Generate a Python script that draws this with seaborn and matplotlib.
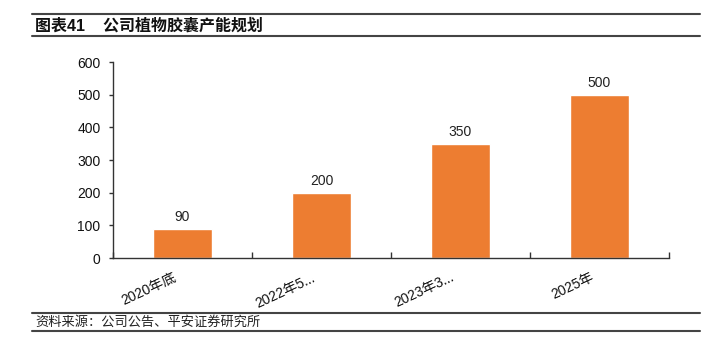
import matplotlib
matplotlib.use("Agg")
import matplotlib.pyplot as plt
from matplotlib.lines import Line2D
from matplotlib.transforms import ScaledTranslation
import seaborn as sns
import pandas as pd

# chart data
categories = ["2020年底", "2022年5...", "2023年3...", "2025年"]
capacity = [90, 200, 350, 500]
title_text = "图表41    公司植物胶囊产能规划"
source_text = "资料来源：公司公告、平安证券研究所"

sns.set_theme(style="white")
plt.rcParams["font.family"] = ["Liberation Sans", "Noto Sans CJK SC", "DejaVu Sans"]

df = pd.DataFrame({"cat": categories, "val": capacity})

fig = plt.figure(figsize=(7.21, 3.56), dpi=100)
ax = fig.add_axes([113 / 721, 1 - 258 / 356, (669 - 113) / 721, (258 - 62) / 356])

sns.barplot(data=df, x="cat", y="val", color="#ED7D31", width=0.42,
            saturation=1, ax=ax)

for i, v in enumerate(capacity):
    ax.text(i, v + 15, str(v), ha="center", va="bottom", fontsize=10, color="#222222")

ax.set_xlim(-0.5, 3.5)
ax.set_ylim(0, 600)
ax.set_yticks(range(0, 601, 100))
ax.set_xlabel("")
ax.set_ylabel("")

for s in ["top", "right"]:
    ax.spines[s].set_visible(False)
for s in ["left", "bottom"]:
    ax.spines[s].set_color("#333333")
    ax.spines[s].set_linewidth(1.0)

ax.tick_params(axis="y", direction="out", length=3, width=1, color="#333333",
               labelsize=10, labelcolor="#111111", left=True, pad=6)
ax.set_xticks([0, 1, 2, 3])
ax.set_xticklabels(categories, rotation=25, ha="right", rotation_mode="anchor",
                   fontsize=10, color="#111111")
ax.tick_params(axis="x", which="major", length=0, pad=9)
shift = ScaledTranslation(-7 / 72, 0, fig.dpi_scale_trans)
for lbl in ax.get_xticklabels():
    lbl.set_transform(lbl.get_transform() + shift)
ax.set_xticks([-0.5, 0.5, 1.5, 2.5, 3.5], minor=True)
ax.tick_params(axis="x", which="minor", direction="in", length=4, width=1,
               color="#333333", bottom=True)

# header and footer rules
for yy in [14, 36, 313, 331]:
    fig.add_artist(Line2D([32 / 721, 700 / 721], [1 - yy / 356, 1 - yy / 356],
                          color="#444444", linewidth=1.5))

fig.text(35 / 721, 1 - 25.5 / 356, title_text, fontsize=11.5, fontweight="bold",
         ha="left", va="center", color="#111111")
fig.text(35 / 721, 1 - 322 / 356, source_text, fontsize=9.5, style="italic",
         ha="left", va="center", color="#222222")

fig.savefig("out.png", dpi=100)
